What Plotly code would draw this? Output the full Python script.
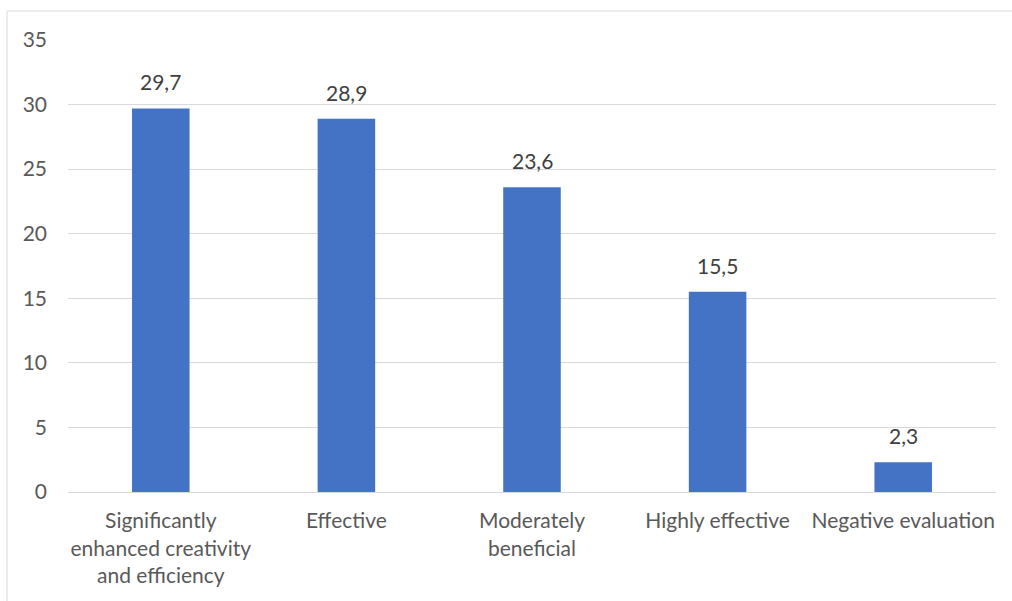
import plotly.graph_objects as go

categories = ["Significantly<br>enhanced creativity<br>and efficiency", "Effective",
              "Moderately<br>beneficial", "Highly effective", "Negative evaluation"]
values = [29.7, 28.9, 23.6, 15.5, 2.3]
y_ticks = [0, 5, 10, 15, 20, 25, 30, 35]

W, H = 1012, 601
ml, mr, mt, mb = 68, 16, 40, 109
pw, ph = W - ml - mr, H - mt - mb

def px_x(x):
    return (x - ml) / pw

def px_y(y):
    return (H - mb - y) / ph

text_color = "#595959"
font_family = "Lato, sans-serif"
fs = 21

fig = go.Figure(go.Bar(
    x=categories, y=values, marker_color="#4472C4",
    marker_line_width=0, hoverinfo="skip",
))

for c, v in zip(categories, values):
    fig.add_annotation(x=c, y=v, text=f"{v:.1f}".replace(".", ","), showarrow=False,
                       yanchor="bottom", yshift=12,
                       font=dict(size=fs, color="#404040", family=font_family))

fig.add_shape(type="line", xref="paper", yref="paper",
              x0=px_x(7), x1=px_x(7), y0=px_y(11), y1=px_y(610),
              line=dict(color="#d9d9d9", width=1))
fig.add_shape(type="line", xref="paper", yref="paper",
              x0=px_x(7), x1=px_x(1020), y0=px_y(11), y1=px_y(11),
              line=dict(color="#d9d9d9", width=1))

fig.update_layout(
    width=W, height=H,
    margin=dict(l=ml, r=mr, t=mt, b=mb),
    paper_bgcolor="white", plot_bgcolor="white",
    bargap=0.69, showlegend=False,
    font=dict(family=font_family, size=fs, color=text_color),
)
fig.update_yaxes(range=[0, 35], tickvals=y_ticks, showgrid=True, gridcolor="#d9d9d9",
                 gridwidth=1, zeroline=False, showline=False, ticks="",
                 ticklabelstandoff=20, tickfont=dict(size=fs, color=text_color))
fig.update_xaxes(showline=True, linecolor="#d9d9d9", linewidth=1, ticks="",
                 ticklabelstandoff=10, tickfont=dict(size=fs, color=text_color))

fig.write_html("out.html")
